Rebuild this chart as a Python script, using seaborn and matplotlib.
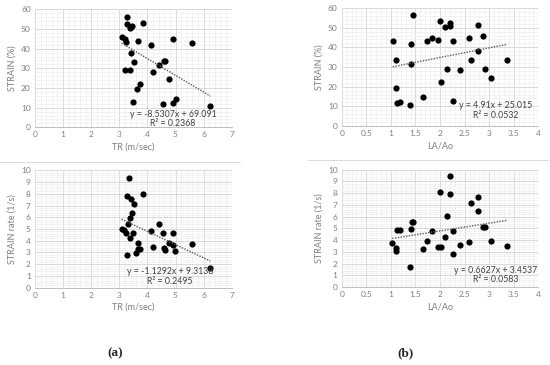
import numpy as np
import pandas as pd
import matplotlib
matplotlib.use("Agg")
import matplotlib.pyplot as plt
from matplotlib.ticker import MultipleLocator
import seaborn as sns

# values
tr_strain_x = [3.29, 3.29, 3.37, 3.41, 3.46, 3.85, 3.08, 3.20, 3.24, 3.67, 4.14, 4.90, 5.59, 3.43, 3.53,
               3.19, 3.37, 4.19, 4.42, 4.58, 4.64, 4.76, 3.74, 3.62, 3.50, 4.56, 4.91, 5.01, 6.24]
tr_strain_y = [56.3, 52.5, 50.3, 51.0, 51.3, 53.2, 45.8, 44.7, 43.4, 43.7, 41.8, 44.7, 43.0, 37.6, 33.4,
               29.0, 29.0, 28.3, 31.7, 33.6, 33.6, 24.4, 22.2, 19.5, 12.7, 11.8, 12.4, 14.6, 10.8]

la_strain_x = [1.45, 1.04, 1.41, 1.10, 1.41, 1.10, 1.13, 1.19, 1.39, 1.66, 1.73, 1.83, 1.96, 1.99, 2.10,
               2.21, 2.21, 2.27, 2.14, 2.01, 2.26, 2.40, 2.58, 2.62, 2.78, 2.77, 2.88, 2.91, 3.04, 3.36]
la_strain_y = [56.3, 43.4, 41.9, 33.6, 31.5, 19.5, 11.8, 12.2, 10.8, 14.7, 43.4, 44.7, 43.9, 53.2, 50.2,
               52.5, 50.6, 43.2, 29.1, 22.2, 12.7, 28.3, 44.7, 33.4, 51.3, 38.0, 45.6, 29.0, 24.4, 33.4]

tr_rate_x = [3.36, 3.29, 3.42, 3.53, 3.85, 3.45, 3.37, 3.30, 3.08, 3.18, 3.23, 3.50, 3.39, 3.26, 3.67,
             3.66, 3.74, 3.61, 4.14, 4.19, 4.42, 4.54, 4.91, 4.58, 4.64, 4.76, 4.90, 4.99, 5.59, 6.24]
tr_rate_y = [9.37, 7.84, 7.56, 7.13, 8.01, 6.39, 5.96, 5.43, 4.97, 4.94, 4.63, 4.63, 4.21, 2.76, 3.81,
             3.33, 3.33, 2.99, 4.83, 3.47, 5.40, 4.69, 4.69, 3.35, 3.24, 3.81, 3.66, 3.15, 3.70, 1.65]

la_rate_x = [2.20, 1.99, 2.20, 2.77, 2.62, 2.78, 2.14, 1.42, 1.46, 1.41, 1.12, 1.19, 1.83, 2.10, 2.26,
             1.03, 1.10, 1.10, 1.73, 1.66, 1.96, 2.01, 2.27, 2.40, 1.39, 2.88, 2.92, 2.58, 3.04, 3.36]
la_rate_y = [9.43, 8.07, 7.90, 7.63, 7.20, 6.44, 6.03, 5.52, 5.52, 4.92, 4.83, 4.86, 4.75, 4.29, 4.75,
             3.78, 3.29, 3.09, 3.89, 3.24, 3.41, 3.41, 2.81, 3.58, 1.70, 5.09, 5.09, 3.81, 3.90, 3.47]

# trendline coefficients as printed in the chart
slopes = [-8.5307, 4.91, -1.1292, 0.6627]
intercepts = [69.091, 25.015, 9.3138, 3.4537]
r2_values = ["0.2368", "0.0532", "0.2495", "0.0583"]
eq_texts = ["y = -8.5307x + 69.091", "y = 4.91x + 25.015",
            "y = -1.1292x + 9.3138", "y = 0.6627x + 3.4537"]

sns.set_style("white")
plt.rcParams['font.family'] = ['Lato', 'DejaVu Sans']

fig = plt.figure(figsize=(5.5, 3.65), dpi=100)

panels = [
    dict(x=tr_strain_x, y=tr_strain_y, rect=[0.0636, 0.6512, 0.3577, 0.3233], xlim=(0, 7), ylim=(0, 60),
         xmaj=1, xmin=0.2, ymaj=10, ymin=2, xlabel="TR (m/sec)", ylabel="STRAIN (%)", txt=(4.91, 6.6, 2.0)),
    dict(x=la_strain_x, y=la_strain_y, rect=[0.6213, 0.6548, 0.3575, 0.3233], xlim=(0, 4), ylim=(0, 60),
         xmaj=0.5, xmin=0.1, ymaj=10, ymin=2, xlabel="LA/Ao", ylabel="STRAIN (%)", txt=(3.13, 10.2, 5.2)),
    dict(x=tr_rate_x, y=tr_rate_y, rect=[0.0636, 0.2118, 0.3577, 0.3216], xlim=(0, 7), ylim=(0, 10),
         xmaj=1, xmin=0.2, ymaj=1, ymin=0.2, xlabel="TR (m/sec)", ylabel="STRAIN rate (1/s)", txt=(4.80, 1.36, 0.57)),
    dict(x=la_rate_x, y=la_rate_y, rect=[0.6213, 0.2137, 0.3575, 0.3214], xlim=(0, 4), ylim=(0, 10),
         xmaj=0.5, xmin=0.1, ymaj=1, ymin=0.2, xlabel="LA/Ao", ylabel="STRAIN rate (1/s)", txt=(3.13, 1.42, 0.60)),
]

for i, p in enumerate(panels):
    ax = fig.add_axes(p["rect"])
    df = pd.DataFrame({"x": p["x"], "y": p["y"]})

    # excel style grid
    ax.xaxis.set_major_locator(MultipleLocator(p["xmaj"]))
    ax.xaxis.set_minor_locator(MultipleLocator(p["xmin"]))
    ax.yaxis.set_major_locator(MultipleLocator(p["ymaj"]))
    ax.yaxis.set_minor_locator(MultipleLocator(p["ymin"]))
    ax.grid(which="major", color="#d9d9d9", lw=0.7)
    ax.grid(which="minor", color="#eeeeee", lw=0.5)
    ax.set_axisbelow(True)

    sns.scatterplot(data=df, x="x", y="y", ax=ax, color="black", s=20, edgecolor="black", linewidth=0, zorder=3)

    # linear trendline over data range
    xs = np.array([min(p["x"]), max(p["x"])])
    ax.plot(xs, slopes[i] * xs + intercepts[i], ls=(0, (1, 1)), color="#595959", lw=1.0, zorder=4)

    tx, ty1, ty2 = p["txt"]
    ax.text(tx, ty1, eq_texts[i], ha="center", va="center", fontsize=6.3, color="#404040", zorder=5)
    ax.text(tx, ty2, "R² = " + r2_values[i], ha="center", va="center", fontsize=6.3, color="#404040", zorder=5)

    ax.set_xlim(*p["xlim"])
    ax.set_ylim(*p["ylim"])
    for side in ["top", "right", "left"]:
        ax.spines[side].set_visible(False)
    ax.spines["bottom"].set_color("#bfbfbf")
    ax.spines["bottom"].set_linewidth(0.7)
    ax.tick_params(which="both", length=0, labelsize=6, labelcolor="#7f7f7f", pad=3)
    ax.set_xticklabels([f"{v:g}" for v in ax.get_xticks()])
    ax.set_xlim(*p["xlim"])
    ax.set_xlabel(p["xlabel"], fontsize=6.5, color="#7f7f7f", labelpad=3)
    ax.set_ylabel(p["ylabel"], fontsize=6.5, color="#7f7f7f", labelpad=3)

# chart area separators
fig.add_artist(plt.Line2D([0.0, 0.436], [1 - 162 / 365, 1 - 162 / 365], color="#d9d9d9", lw=0.7))
fig.add_artist(plt.Line2D([0.56, 0.996], [1 - 160 / 365, 1 - 160 / 365], color="#d9d9d9", lw=0.7))

fig.text(115 / 550, 1 - 353 / 365, "(a)", ha="center", va="center", fontsize=9.5, fontweight="bold",
         fontfamily="Liberation Serif")
fig.text(405 / 550, 1 - 353 / 365, "(b)", ha="center", va="center", fontsize=9.5, fontweight="bold",
         fontfamily="Liberation Serif")

fig.savefig("out.png", dpi=100)
